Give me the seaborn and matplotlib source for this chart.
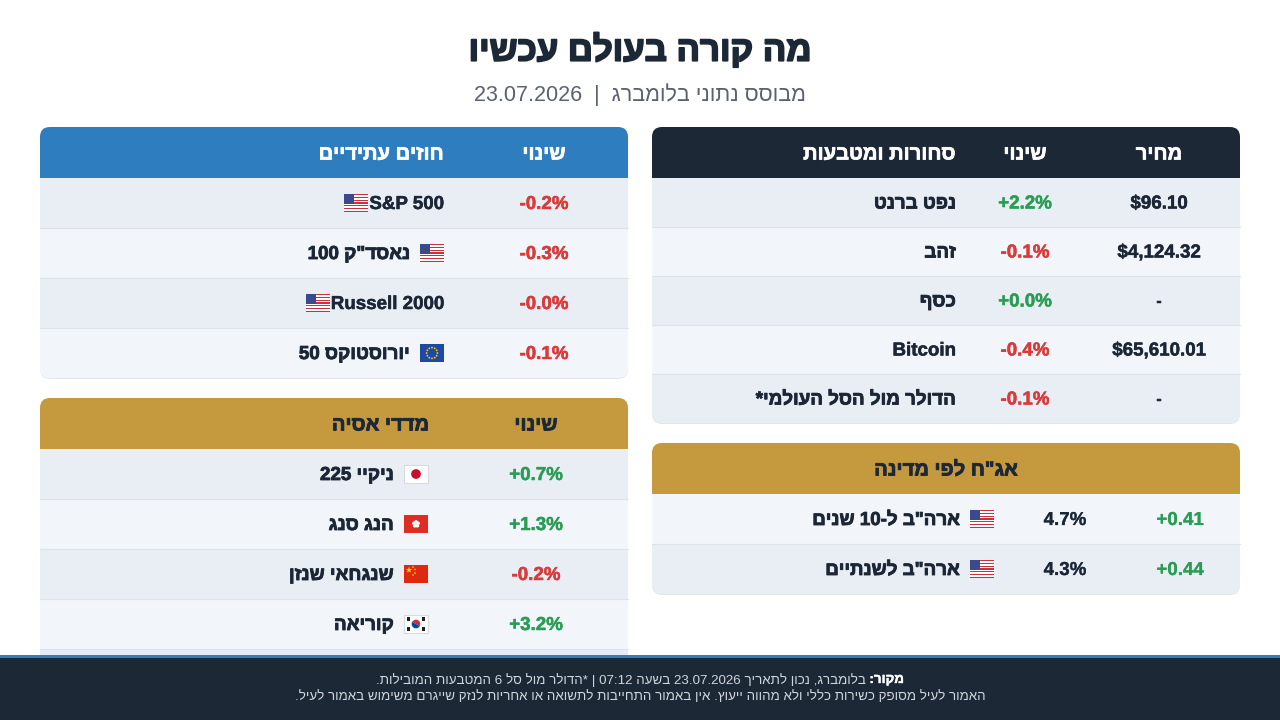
import matplotlib
matplotlib.use("Agg")
import matplotlib.pyplot as plt
import matplotlib.patheffects as pe
from matplotlib.patches import FancyBboxPatch, Rectangle, Circle, Polygon, Wedge
import seaborn as sns
import numpy as np

# ---------------- data ----------------
TITLE = "מה קורה בעולם עכשיו"
SUBTITLE = "מבוסס נתוני בלומברג  |  23.07.2026"

commod_header = ["סחורות ומטבעות", "שינוי", "מחיר"]
commod_names = ["נפט ברנט", "זהב", "כסף", "Bitcoin", "הדולר מול הסל העולמי*"]
commod_changes = ["+2.2%", "-0.1%", "+0.0%", "-0.4%", "-0.1%"]
commod_prices = ["$96.10", "$4,124.32", "-", "$65,610.01", "-"]

bond_header = 'אג"ח לפי מדינה'
bond_names = ['ארה"ב ל-10 שנים', 'ארה"ב לשנתיים']
bond_flags = ["us", "us"]
bond_yields = ["4.7%", "4.3%"]
bond_changes = ["+0.41", "+0.44"]

fut_header = ["חוזים עתידיים", "שינוי"]
fut_names = ["S&P 500", 'נאסד"ק 100', "Russell 2000", "יורוסטוקס 50"]
fut_flags = ["us", "us", "us", "eu"]
fut_changes = ["-0.2%", "-0.3%", "-0.0%", "-0.1%"]

asia_header = ["מדדי אסיה", "שינוי"]
asia_names = ["ניקיי 225", "הנג סנג", "שנגחאי שנזן", "קוריאה"]
asia_flags = ["jp", "hk", "cn", "kr"]
asia_changes = ["+0.7%", "+1.3%", "-0.2%", "+3.2%"]

FOOT_BOLD = "מקור:"
FOOT_LINE1 = " בלומברג, נכון לתאריך 23.07.2026 בשעה 07:12 | *הדולר מול סל 6 המטבעות המובילות."
FOOT_LINE2 = "האמור לעיל מסופק כשירות כללי ולא מהווה ייעוץ. אין באמור התחייבות לתשואה או אחריות לנזק שייגרם משימוש באמור לעיל."

# ---------------- style ----------------
sns.set_theme(style="white")
plt.rcParams['font.family'] = ['Liberation Sans', 'DejaVu Sans']

DARK = "#1d2836"
BLUE = "#2d7dbf"
GOLD = "#c59a3e"
ROW_A = "#e9eef4"
ROW_B = "#f2f5f9"
TXT = "#1b2636"
GREEN = "#2a9d55"
RED = "#d93a3a"
pal = {"+": GREEN, "-": RED}
DY = 1.5  # baseline nudge so text sits centred in rows


def is_rtl(c):
    return '\u0590' <= c <= '\u05FF'


def visual(s):
    """Minimal bidi reordering for an RTL paragraph."""
    if not any(is_rtl(c) for c in s):
        return s
    types = ['R' if is_rtl(c) else ('L' if c.isalnum() else 'N') for c in s]
    res = types[:]
    n = len(s)
    i = 0
    while i < n:
        if types[i] == 'N':
            j = i
            while j < n and types[j] == 'N':
                j += 1
            prev = types[i - 1] if i > 0 else 'R'
            nxt = types[j] if j < n else 'R'
            d = prev if prev == nxt else 'R'
            for k in range(i, j):
                res[k] = d
            i = j
        else:
            i += 1
    runs = []
    cur, cd = s[0], res[0]
    for c, d in zip(s[1:], res[1:]):
        if d == cd:
            cur += c
        else:
            runs.append((cd, cur))
            cur, cd = c, d
    runs.append((cd, cur))
    return ''.join(t[::-1] if d == 'R' else t for d, t in reversed(runs))


fig = plt.figure(figsize=(12.8, 7.2), dpi=100)
fig.patch.set_facecolor("white")
ax = fig.add_axes([0, 0, 1, 1])
ax.set_xlim(0, 1280)
ax.set_ylim(720, 0)
ax.axis("off")
renderer = fig.canvas.get_renderer()


def htext(x, y, s, ha="center", size=13.5, bold=True, color=None, stroke=None, **kw):
    """Text helper: bidi-reorders Hebrew and thickens bold strokes slightly."""
    color = color or TXT
    heb = any(is_rtl(c) for c in s)
    if stroke is None:
        stroke = 0.6 if heb else 0.35
    effects = []
    if bold and stroke > 0:
        effects = [pe.withStroke(linewidth=stroke, foreground=color)]
    return ax.text(x, y, visual(s), ha=ha, va="center", fontsize=size,
                   fontweight="bold" if bold else "normal", color=color,
                   path_effects=effects, zorder=kw.pop("zorder", 7), **kw)


def text_w(t):
    return t.get_window_extent(renderer).width


def draw_flag(kind, xr, yc, w=24, h=18):
    x0, y0 = xr - w, yc - h / 2
    if kind == "us":
        sh = h / 13
        ax.add_patch(Rectangle((x0, y0), w, h, fc="white", ec="none", zorder=5))
        for i in range(0, 13, 2):
            ax.add_patch(Rectangle((x0, y0 + i * sh), w, sh, fc="#c8313e", ec="none", zorder=5))
        ax.add_patch(Rectangle((x0, y0), w * 0.42, sh * 7, fc="#3b4a8c", ec="none", zorder=6))
    elif kind == "eu":
        ax.add_patch(Rectangle((x0, y0), w, h, fc="#1f48a3", ec="none", zorder=5))
        cx, cy = x0 + w / 2, yc
        for a in np.linspace(0, 2 * np.pi, 12, endpoint=False):
            ax.add_patch(Circle((cx + 0.3 * h * np.cos(a), cy + 0.3 * h * np.sin(a)), 0.9,
                                fc="#f5d000", ec="none", zorder=6))
    elif kind == "jp":
        ax.add_patch(Rectangle((x0, y0), w, h, fc="white", ec="#d7dbe0", lw=0.8, zorder=5))
        ax.add_patch(Circle((x0 + w / 2, yc), h * 0.27, fc="#c8102e", ec="none", zorder=6))
    elif kind == "hk":
        ax.add_patch(Rectangle((x0, y0), w, h, fc="#de2d25", ec="none", zorder=5))
        for a in np.linspace(0, 2 * np.pi, 5, endpoint=False):
            ax.add_patch(Circle((x0 + w / 2 + 2.2 * np.sin(a), yc - 2.2 * np.cos(a)), 1.8,
                                fc="white", ec="none", zorder=6))
    elif kind == "cn":
        ax.add_patch(Rectangle((x0, y0), w, h, fc="#de2910", ec="none", zorder=5))
        cx, cy, r = x0 + 5, y0 + 5, 3.2
        pts = []
        for k in range(10):
            rr = r if k % 2 == 0 else r * 0.4
            a = -np.pi / 2 + k * np.pi / 5
            pts.append((cx + rr * np.cos(a), cy + rr * np.sin(a)))
        ax.add_patch(Polygon(pts, fc="#ffde00", ec="none", zorder=6))
        for dx, dy in [(9, 2), (11, 4.5), (11, 8), (9, 10)]:
            ax.add_patch(Circle((x0 + dx, y0 + dy), 0.8, fc="#ffde00", ec="none", zorder=6))
    elif kind == "kr":
        ax.add_patch(Rectangle((x0, y0), w, h, fc="white", ec="#d7dbe0", lw=0.8, zorder=5))
        cx = x0 + w / 2
        ax.add_patch(Wedge((cx, yc), h * 0.24, 180 + 30, 360 + 30, fc="#cd2e3a", ec="none", zorder=6))
        ax.add_patch(Wedge((cx, yc), h * 0.24, 30, 180 + 30, fc="#0047a0", ec="none", zorder=6))
        for dx, dy in [(-7.5, -5), (7.5, -5), (-7.5, 5), (7.5, 5)]:
            ax.add_patch(Rectangle((cx + dx - 1.6, yc + dy - 1.6), 3.2, 3.2, fc="#222", ec="none", zorder=6))


def panel(x0, x1, y0, header_h, row_h, nrows, hcolor, first_dark=True, extra_to=None):
    y1 = y0 + header_h + row_h * nrows
    yb = extra_to if extra_to else y1
    shadow = FancyBboxPatch((x0, y0 + 1), x1 - x0, yb - y0, boxstyle="round,pad=0,rounding_size=10",
                            fc="#e2e6eb", ec="none", zorder=1)
    ax.add_patch(shadow)
    clip = FancyBboxPatch((x0, y0), x1 - x0, yb - y0, boxstyle="round,pad=0,rounding_size=10",
                          fc=ROW_B, ec="none", zorder=1.5)
    ax.add_patch(clip)
    h = Rectangle((x0, y0), x1 - x0, header_h, fc=hcolor, ec="none", zorder=2)
    ax.add_patch(h)
    h.set_clip_path(clip)
    centers = []
    k = 0
    y = y0 + header_h
    while y < yb - 0.5:
        if k < nrows:
            dark = (k % 2 == 0) == first_dark
            fc = ROW_A if dark else ROW_B
        else:
            fc = "#e4ecf7"
        r = Rectangle((x0, y), x1 - x0, row_h, fc=fc, ec="none", zorder=2)
        ax.add_patch(r)
        r.set_clip_path(clip)
        if k > 0:
            ax.plot([x0, x1], [y, y], color="#dde3ea", lw=0.8, zorder=3)
        if k < nrows:
            centers.append(y + row_h / 2 + DY)
        y += row_h
        k += 1
    return y0 + header_h / 2 + DY, centers


def change_color(v):
    return pal.get(v[0], TXT)


def name_with_flag(name, flag, xr, yc, size=13.5):
    rtl = any(is_rtl(c) for c in name)
    if rtl:
        draw_flag(flag, xr, yc - DY)
        htext(xr - 34, yc, name, ha="right", size=size)
    else:
        t = htext(xr, yc, name, ha="right", size=size)
        draw_flag(flag, xr - text_w(t) - 1, yc - DY)


# ---------------- title ----------------
htext(640, 50, TITLE, size=25, color=DARK, stroke=1.3)
htext(640, 95, SUBTITLE, size=15.5, bold=False, color="#5a6270")

HS = 14.5
RS = 13.5

# ---------------- commodities ----------------
hy, rows = panel(652, 1240, 127, 51, 49, len(commod_names), DARK, first_dark=True)
htext(956, hy, commod_header[0], ha="right", size=HS, color="white", stroke=0.5)
htext(1025, hy, commod_header[1], size=HS, color="white", stroke=0.5)
htext(1159, hy, commod_header[2], size=HS, color="white", stroke=0.5)
for yc, nm, ch, pr in zip(rows, commod_names, commod_changes, commod_prices):
    htext(956, yc, nm, ha="right", size=RS)
    htext(1025, yc, ch, size=RS, color=change_color(ch))
    htext(1159, yc, pr, size=RS)

# ---------------- bonds ----------------
hy, rows = panel(652, 1240, 443, 51, 50, len(bond_names), GOLD, first_dark=False)
htext(946, hy, bond_header, size=HS, color=DARK)
for yc, nm, fl, yl, ch in zip(rows, bond_names, bond_flags, bond_yields, bond_changes):
    name_with_flag(nm, fl, 994, yc, RS)
    htext(1065, yc, yl, size=RS, stroke=0.15)
    htext(1180, yc, ch, size=RS, color=change_color(ch), stroke=0.15)

# ---------------- futures ----------------
hy, rows = panel(40, 628, 127, 51, 50, len(fut_names), BLUE, first_dark=True)
htext(444, hy, fut_header[0], ha="right", size=HS, color="white", stroke=0.5)
htext(544, hy, fut_header[1], size=HS, color="white", stroke=0.5)
for yc, nm, fl, ch in zip(rows, fut_names, fut_flags, fut_changes):
    name_with_flag(nm, fl, 444, yc, RS)
    htext(544, yc, ch, size=RS, color=change_color(ch))

# ---------------- asia ----------------
hy, rows = panel(40, 628, 398, 51, 50, len(asia_names), GOLD, first_dark=True, extra_to=699)
htext(429, hy, asia_header[0], ha="right", size=HS, color=DARK)
htext(536, hy, asia_header[1], size=HS, color=DARK)
for yc, nm, fl, ch in zip(rows, asia_names, asia_flags, asia_changes):
    name_with_flag(nm, fl, 428, yc, RS)
    htext(536, yc, ch, size=RS, color=change_color(ch))

# ---------------- footer ----------------
ax.add_patch(Rectangle((0, 655), 1280, 65, fc=DARK, ec="none", zorder=10))
ax.add_patch(Rectangle((0, 655), 1280, 3, fc=BLUE, ec="none", zorder=11))
FS = 9.6
tb = htext(0, 680, FOOT_BOLD, ha="left", size=FS, color="white", stroke=0.3, zorder=12)
tr = htext(0, 680, FOOT_LINE1, ha="right", size=FS, bold=False, color="#cfd6de", zorder=12)
wb, wr = text_w(tb), text_w(tr)
xs = 640 - (wb + wr) / 2 + wr
tb.set_x(xs)
tr.set_x(xs)
htext(640, 697, FOOT_LINE2, size=FS, bold=False, color="#cfd6de", zorder=12)

fig.savefig("out.png", dpi=100, facecolor="white")
